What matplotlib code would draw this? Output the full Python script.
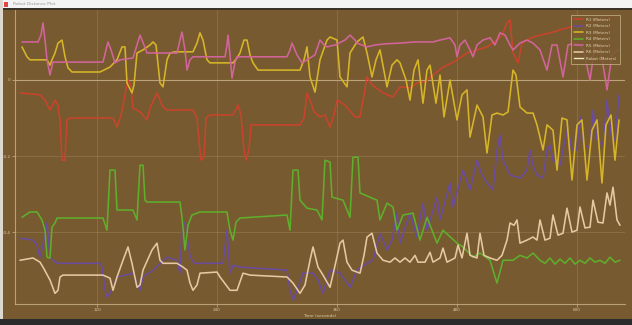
#!/usr/bin/env python3
# screenshot-style multi-series distance plot: six ranger series on a
# brown canvas, window chrome drawn around it.

import matplotlib
matplotlib.use("Agg")
import matplotlib.pyplot as plt
from matplotlib.lines import Line2D
from matplotlib.patches import Rectangle

BG = "#785a30"
FRAME = "#c9b38a"

# time (s) / distance (m) pairs, one pair of lists per series
R1_T = [43, 63, 68, 73, 78, 81, 83, 85, 88, 90, 93, 136, 140, 144, 147, 151, 154, 156, 163, 170,
        173, 180, 183, 186, 190, 216, 220, 222, 224, 227, 229, 233, 256, 261, 264, 267, 269, 272,
        274, 323, 327, 330, 333, 337, 343, 348, 353, 357, 360, 368, 378, 383, 387, 390, 395, 406,
        416, 423, 433, 440, 448, 456, 466, 473, 480, 490, 500, 510, 520, 525, 530, 533, 536, 541,
        545, 556, 573, 590, 606, 623, 640]
R1_V = [-0.034, -0.039, -0.053, -0.079, -0.053, -0.066, -0.105, -0.211, -0.211, -0.105, -0.100,
        -0.100, -0.124, -0.092, -0.053, 0.0, -0.013, -0.074, -0.084, -0.105, -0.074, -0.034,
        -0.053, -0.071, -0.079, -0.079, -0.100, -0.158, -0.211, -0.203, -0.100, -0.092, -0.092,
        -0.066, -0.092, -0.184, -0.211, -0.184, -0.118, -0.118, -0.100, -0.034, -0.053, -0.084,
        -0.097, -0.092, -0.124, -0.092, -0.053, -0.066, -0.097, -0.097, -0.039, 0.008, -0.013,
        -0.034, -0.045, -0.018, -0.021, -0.008, -0.005, 0.013, 0.034, 0.042, 0.053, 0.071, 0.079,
        0.087, 0.105, 0.118, 0.150, 0.158, 0.071, 0.045, 0.097, 0.113, 0.124, 0.137, 0.145, 0.158,
        0.166]

R2_T = [43, 56, 60, 63, 66, 70, 73, 76, 80, 123, 125, 128, 130, 133, 140, 156, 161, 163, 166, 176,
        190, 200, 203, 205, 208, 210, 213, 215, 218, 246, 250, 253, 256, 263, 310, 313, 316, 320,
        326, 336, 341, 346, 350, 353, 363, 368, 373, 380, 390, 396, 403, 410, 415, 420, 423, 433,
        440, 446, 450, 460, 463, 473, 476, 486, 493, 500, 505, 510, 516, 520, 523, 526, 533, 543,
        550, 553, 556, 560, 566, 570, 573, 576, 583, 588, 591, 595, 600, 603, 607, 613, 616, 620,
        626, 630, 634, 638, 642]
R2_V = [-0.416, -0.421, -0.434, -0.466, -0.434, -0.376, -0.466, -0.474, -0.482, -0.482, -0.492,
        -0.553, -0.571, -0.561, -0.518, -0.508, -0.539, -0.553, -0.518, -0.500, -0.466, -0.474,
        -0.508, -0.387, -0.374, -0.413, -0.461, -0.474, -0.482, -0.482, -0.395, -0.508, -0.487,
        -0.492, -0.500, -0.553, -0.579, -0.553, -0.508, -0.508, -0.526, -0.561, -0.526, -0.500,
        -0.508, -0.526, -0.545, -0.500, -0.482, -0.474, -0.403, -0.447, -0.421, -0.350, -0.429,
        -0.350, -0.413, -0.324, -0.395, -0.308, -0.368, -0.271, -0.334, -0.237, -0.289, -0.211,
        -0.250, -0.271, -0.289, -0.184, -0.145, -0.211, -0.250, -0.258, -0.237, -0.184, -0.224,
        -0.250, -0.258, -0.184, -0.171, -0.211, -0.224, -0.158, -0.132, -0.184, -0.184, -0.097,
        -0.171, -0.179, -0.079, -0.158, -0.171, -0.053, -0.145, -0.158, -0.039]

R3_T = [45, 50, 53, 70, 73, 75, 78, 81, 85, 88, 91, 95, 123, 133, 140, 145, 148, 150, 155, 157, 160,
        166, 173, 176, 179, 183, 186, 190, 193, 198, 216, 220, 223, 226, 230, 233, 256, 260, 263,
        267, 270, 273, 276, 281, 323, 327, 330, 333, 338, 343, 350, 353, 360, 363, 370, 373, 380,
        386, 390, 395, 399, 403, 410, 415, 420, 423, 429, 433, 437, 441, 446, 450, 453, 459, 463,
        467, 473, 480, 485, 490, 493, 500, 506, 510, 515, 520, 526, 531, 536, 539, 543, 550, 556,
        560, 566, 570, 576, 580, 585, 590, 595, 600, 605, 610, 615, 620, 625, 629, 634, 638, 642]
R3_V = [0.087, 0.061, 0.053, 0.053, 0.039, 0.053, 0.071, 0.097, 0.105, 0.061, 0.032, 0.021, 0.021,
        0.034, 0.053, 0.087, 0.087, -0.008, -0.034, -0.013, 0.071, 0.079, 0.092, 0.100, 0.092,
        -0.008, -0.018, 0.053, 0.071, 0.074, 0.074, 0.097, 0.124, 0.105, 0.053, 0.045, 0.045,
        0.058, 0.071, 0.105, 0.105, 0.066, 0.045, 0.026, 0.026, 0.053, 0.087, 0.008, -0.032, 0.053,
        0.105, 0.113, 0.105, 0.008, -0.018, 0.071, 0.100, 0.113, 0.071, 0.008, 0.053, 0.079,
        -0.018, 0.039, 0.053, 0.045, 0.0, -0.053, 0.026, 0.053, -0.061, 0.026, 0.039, -0.061,
        0.013, -0.097, 0.0, -0.105, -0.039, -0.026, -0.150, -0.066, -0.097, -0.192, -0.092,
        -0.087, -0.092, -0.084, 0.026, 0.013, -0.071, -0.087, -0.087, -0.118, -0.184, -0.118,
        -0.132, -0.237, -0.100, -0.105, -0.263, -0.118, -0.105, -0.263, -0.132, -0.105, -0.271,
        -0.118, -0.092, -0.211, -0.105]

R4_T = [45, 53, 60, 65, 68, 70, 73, 75, 78, 80, 126, 130, 133, 138, 140, 156, 160, 163, 166, 168,
        170, 203, 205, 208, 211, 215, 223, 250, 253, 256, 259, 263, 310, 313, 316, 321, 323, 330,
        340, 345, 348, 353, 355, 366, 373, 376, 381, 383, 400, 403, 410, 416, 420, 426, 436, 443,
        450, 460, 466, 480, 486, 496, 503, 513, 520, 526, 536, 543, 550, 556, 563, 568, 573, 578,
        583, 588, 593, 598, 603, 608, 613, 618, 623, 628, 633, 638, 643]
R4_V = [-0.361, -0.347, -0.347, -0.368, -0.395, -0.466, -0.468, -0.387, -0.376, -0.363, -0.363,
        -0.395, -0.237, -0.237, -0.342, -0.342, -0.368, -0.224, -0.224, -0.316, -0.321, -0.321,
        -0.361, -0.447, -0.382, -0.355, -0.347, -0.347, -0.395, -0.421, -0.374, -0.363, -0.355,
        -0.395, -0.237, -0.237, -0.316, -0.337, -0.342, -0.368, -0.211, -0.216, -0.308, -0.316,
        -0.361, -0.203, -0.203, -0.297, -0.316, -0.368, -0.324, -0.334, -0.395, -0.355, -0.350,
        -0.421, -0.361, -0.429, -0.395, -0.429, -0.439, -0.466, -0.455, -0.474, -0.534, -0.474,
        -0.474, -0.461, -0.468, -0.455, -0.474, -0.482, -0.468, -0.484, -0.471, -0.482, -0.468,
        -0.484, -0.474, -0.482, -0.468, -0.479, -0.474, -0.482, -0.466, -0.479, -0.474]

R5_T = [45, 61, 64, 66, 68, 70, 73, 76, 83, 126, 129, 131, 134, 138, 143, 156, 160, 163, 167, 170,
        200, 203, 205, 208, 210, 213, 216, 248, 250, 251, 253, 255, 258, 260, 310, 313, 315, 320,
        325, 330, 338, 343, 347, 350, 358, 368, 373, 378, 380, 385, 390, 398, 408, 423, 438, 456,
        463, 473, 478, 480, 483, 488, 493, 496, 500, 506, 513, 518, 523, 528, 533, 536, 543, 550,
        556, 563, 570, 575, 580, 586, 591, 598, 606, 613, 618, 623, 630, 635, 641]
R5_V = [0.100, 0.100, 0.118, 0.150, 0.105, 0.053, 0.013, 0.047, 0.047, 0.047, 0.079, 0.100, 0.079,
        0.045, 0.053, 0.058, 0.092, 0.118, 0.092, 0.071, 0.071, 0.105, 0.126, 0.079, 0.026, 0.053,
        0.061, 0.061, 0.092, 0.118, 0.066, 0.005, 0.047, 0.061, 0.061, 0.079, 0.097, 0.066, 0.045,
        0.053, 0.066, 0.105, 0.092, 0.087, 0.092, 0.105, 0.118, 0.105, 0.097, 0.092, 0.087, 0.092,
        0.095, 0.097, 0.100, 0.100, 0.105, 0.111, 0.092, 0.061, 0.092, 0.105, 0.079, 0.061, 0.092,
        0.105, 0.111, 0.092, 0.124, 0.118, 0.092, 0.079, 0.097, 0.105, 0.097, 0.079, 0.026, 0.092,
        0.092, 0.008, 0.092, 0.097, 0.084, 0.0, 0.092, 0.092, -0.026, 0.066, 0.079]

R6_T = [43, 56, 63, 66, 73, 78, 81, 83, 86, 126, 133, 136, 140, 146, 151, 155, 160, 163, 166, 175,
        180, 183, 186, 200, 206, 210, 213, 216, 220, 223, 240, 243, 253, 260, 266, 273, 310, 316,
        323, 328, 333, 336, 341, 346, 353, 357, 363, 366, 370, 375, 383, 387, 390, 395, 400, 406,
        413, 418, 423, 428, 433, 438, 441, 448, 453, 456, 463, 466, 470, 478, 481, 485, 490, 493,
        500, 503, 507, 513, 520, 525, 530, 533, 537, 540, 543, 550, 556, 560, 563, 568, 573, 576,
        581, 586, 590, 595, 600, 603, 608, 613, 616, 621, 626, 630, 633, 636, 640, 643]
R6_V = [-0.474, -0.468, -0.479, -0.492, -0.526, -0.561, -0.553, -0.518, -0.513, -0.513, -0.521,
        -0.553, -0.518, -0.474, -0.439, -0.482, -0.545, -0.539, -0.500, -0.447, -0.429, -0.474,
        -0.482, -0.482, -0.492, -0.500, -0.534, -0.553, -0.539, -0.508, -0.505, -0.518, -0.553,
        -0.553, -0.508, -0.513, -0.518, -0.534, -0.561, -0.539, -0.474, -0.439, -0.492, -0.513,
        -0.545, -0.500, -0.429, -0.421, -0.479, -0.500, -0.508, -0.461, -0.413, -0.403, -0.455,
        -0.474, -0.479, -0.468, -0.479, -0.468, -0.479, -0.461, -0.479, -0.479, -0.453, -0.479,
        -0.468, -0.442, -0.479, -0.468, -0.434, -0.468, -0.403, -0.461, -0.468, -0.403, -0.461,
        -0.468, -0.474, -0.461, -0.421, -0.376, -0.382, -0.368, -0.429, -0.421, -0.413, -0.421,
        -0.368, -0.421, -0.416, -0.355, -0.408, -0.403, -0.337, -0.400, -0.395, -0.334, -0.389,
        -0.387, -0.316, -0.374, -0.376, -0.297, -0.329, -0.282, -0.368, -0.382]

SERIES = [
    ("R1 (Meters)", R1_T, R1_V, "#c8442c"),
    ("R2 (Meters)", R2_T, R2_V, "#6b4c9c"),
    ("R3 (Meters)", R3_T, R3_V, "#d6b628"),
    ("R4 (Meters)", R4_T, R4_V, "#5fae2c"),
    ("R5 (Meters)", R5_T, R5_V, "#d2649c"),
    ("R6 (Meters)", R6_T, R6_V, "#e6c9a2"),
]
ROBOT_LABEL = "Robot (Meters)"
ROBOT_COLOR = "#f1e6bd"

X_TICKS = [120, 240, 360, 480, 600]
Y_TICKS = [0.0, -0.2, -0.4]
Y_TICK_LABELS = ["0", "-0.2", "-0.4"]
WINDOW_TITLE = "Robot Distance Plot"


def main():
    fig = plt.figure(figsize=(6.32, 3.25), dpi=100, facecolor=BG)

    # window chrome: title bar, left border, bottom border
    fig.patches.append(Rectangle((0, 1 - 8 / 325), 1, 8 / 325, transform=fig.transFigure,
                                 facecolor="#f3f3f3", edgecolor="none", zorder=0))
    fig.patches.append(Rectangle((0, 1 - 9.5 / 325), 1, 1.5 / 325, transform=fig.transFigure,
                                 facecolor="#3a3226", edgecolor="none", zorder=0))
    fig.patches.append(Rectangle((0, 0), 3 / 632, 1, transform=fig.transFigure,
                                 facecolor="#dcd8cf", edgecolor="none", zorder=0))
    fig.patches.append(Rectangle((0, 0), 1, 6 / 325, transform=fig.transFigure,
                                 facecolor="#2b2b2b", edgecolor="none", zorder=0))
    fig.patches.append(Rectangle((4 / 632, 1 - 6.5 / 325), 4 / 632, 5 / 325,
                                 transform=fig.transFigure, facecolor="#e04848",
                                 edgecolor="none", zorder=1))
    fig.text(13 / 632, 1 - 4 / 325, WINDOW_TITLE, fontsize=3.2, color="#9a9a9a",
             va="center", ha="left")

    ax = fig.add_axes([15 / 632, 21 / 325, 610 / 632, 294 / 325])
    ax.set_facecolor(BG)
    ax.set_xlim(38, 648)
    ax.set_ylim(-0.589, 0.184)

    ax.grid(True, color=FRAME, linewidth=0.5, alpha=0.3)
    ax.axhline(0, color=FRAME, linewidth=0.8, alpha=0.8, zorder=1)

    for label, t, v, color in SERIES:
        ax.plot(t, v, color=color, linewidth=1.15, label=label, zorder=3,
                solid_joinstyle="round", solid_capstyle="round")

    for side in ("top", "right"):
        ax.spines[side].set_visible(False)
    for side in ("left", "bottom"):
        ax.spines[side].set_color(FRAME)
        ax.spines[side].set_linewidth(0.8)
        ax.spines[side].set_alpha(0.8)

    ax.set_xticks(X_TICKS)
    ax.set_yticks(Y_TICKS)
    ax.set_yticklabels(Y_TICK_LABELS)
    ax.tick_params(colors=FRAME, labelcolor="#d8c9a8", labelsize=3, length=2,
                   width=0.5, pad=1)
    ax.set_xlabel("Time (seconds)", fontsize=3.2, color="#d8c9a8", labelpad=1)

    handles, labels = ax.get_legend_handles_labels()
    handles.append(Line2D([], [], color=ROBOT_COLOR, linewidth=1.0))
    labels.append(ROBOT_LABEL)
    leg = ax.legend(handles, labels, loc="upper right", bbox_to_anchor=(0.995, 0.99),
                    fontsize=3, handlelength=2.2, handletextpad=0.8, labelspacing=0.6,
                    borderpad=0.7, frameon=True, facecolor=BG, edgecolor=FRAME,
                    framealpha=0.85, fancybox=False)
    for text in leg.get_texts():
        text.set_color("#e0d2b0")
    leg.get_frame().set_linewidth(0.6)

    fig.savefig("out.png", dpi=100, facecolor=BG)
    plt.close(fig)


if __name__ == "__main__":
    main()
